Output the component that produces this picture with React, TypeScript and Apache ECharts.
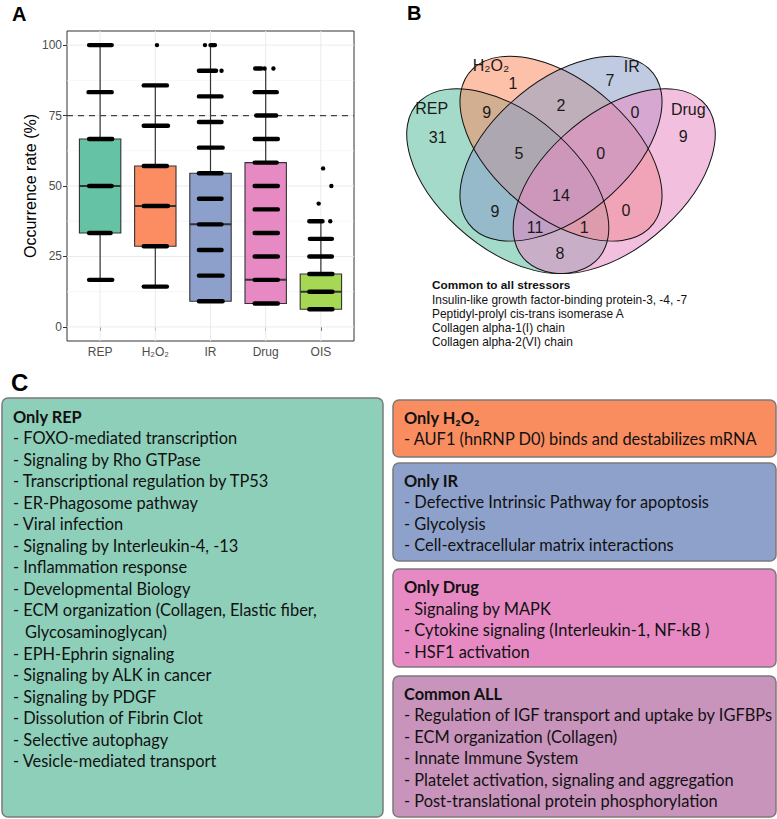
import React, { useEffect, useRef } from "react";
import * as echarts from "echarts";

// ---------- Panel A data ----------
const categories = ["REP", "H₂O₂", "IR", "Drug", "OIS"];
const boxColors = ["#66C2A5", "#FC8D62", "#8DA0CB", "#E78AC3", "#A6D854"];
// [lower whisker, Q1, median, Q3, upper whisker]
const repStats = [16.7, 33.3, 50, 66.7, 100];
const h2o2Stats = [14.3, 28.6, 42.9, 57.1, 85.7];
const irStats = [9.1, 9.1, 36.4, 54.5, 100];
const drugStats = [8.3, 8.3, 16.7, 58.3, 91.7];
const oisStats = [6.25, 6.25, 12.5, 18.75, 37.5];
const boxStats = [repStats, h2o2Stats, irStats, drugStats, oisStats];
const yTicks = [0, 25, 50, 75, 100];
const yMinor = [12.5, 37.5, 62.5, 87.5];
const threshold = 75;
// jittered point rows: [category index, value, left jitter, right jitter]
const repPoints = [
  [0, 100, -0.2, 0.21], [0, 83.3, -0.21, 0.21], [0, 66.7, -0.2, 0.22],
  [0, 50, -0.2, 0.21], [0, 33.3, -0.2, 0.19], [0, 16.7, -0.2, 0.22],
];
const h2o2Points = [
  [1, 100, 0.03, 0.03], [1, 85.7, -0.21, 0.21], [1, 71.4, -0.21, 0.23],
  [1, 57.1, -0.21, 0.21], [1, 42.9, -0.21, 0.23], [1, 28.6, -0.21, 0.21],
  [1, 14.3, -0.21, 0.21],
];
const irPoints = [
  [2, 100, -0.1, -0.1], [2, 100, 0.0, 0.08], [2, 90.9, -0.21, 0.1], [2, 90.9, 0.2, 0.2],
  [2, 81.8, -0.21, 0.2], [2, 72.7, -0.21, 0.2], [2, 63.6, -0.21, 0.22],
  [2, 54.5, -0.21, 0.2], [2, 45.5, -0.21, 0.2], [2, 36.4, -0.21, 0.2],
  [2, 27.3, -0.21, 0.2], [2, 18.2, -0.21, 0.22], [2, 9.1, -0.21, 0.22],
];
const drugPoints = [
  [3, 91.7, -0.19, -0.08], [3, 91.7, -0.02, -0.02], [3, 91.7, 0.14, 0.14],
  [3, 83.3, -0.2, 0.2], [3, 75, -0.17, 0.19], [3, 66.7, -0.2, 0.22],
  [3, 58.3, -0.2, 0.2], [3, 50, -0.2, 0.22], [3, 41.7, -0.2, 0.22],
  [3, 33.3, -0.2, 0.22], [3, 25, -0.2, 0.22], [3, 16.7, -0.2, 0.22],
  [3, 8.3, -0.2, 0.22],
];
const oisPoints = [
  [4, 56.25, 0.04, 0.04], [4, 50, 0.19, 0.19], [4, 43.75, -0.04, -0.04],
  [4, 37.5, -0.21, 0.03], [4, 37.5, 0.17, 0.17], [4, 31.25, -0.2, 0.2],
  [4, 25, -0.21, 0.2], [4, 18.75, -0.21, 0.21], [4, 12.5, -0.21, 0.21],
  [4, 6.25, -0.21, 0.21],
];
const jitterRows = [...repPoints, ...h2o2Points, ...irPoints, ...drugPoints, ...oisPoints];

// ---------- Panel B data ----------
const vennSets = ["REP", "H₂O₂", "IR", "Drug"];
const vennColors = ["rgba(102,194,165,0.6)", "rgba(252,141,98,0.55)", "rgba(141,160,203,0.55)", "rgba(231,138,195,0.55)"];
const vennRegions = ["REP", "H2O2", "IR", "Drug", "REP&H2O2", "H2O2&IR", "IR&Drug", "REP&H2O2&IR",
  "H2O2&IR&Drug", "ALL", "REP&IR", "H2O2&Drug", "REP&IR&Drug", "REP&H2O2&Drug", "REP&Drug"];
const vennCounts = [31, 1, 7, 9, 9, 2, 0, 5, 0, 14, 9, 0, 11, 1, 8];
const commonTitle = "Common to all stressors";
const commonProteins = [
  "Insulin-like growth factor-binding protein-3, -4, -7",
  "Peptidyl-prolyl cis-trans isomerase A",
  "Collagen alpha-1(I) chain",
  "Collagen alpha-2(VI) chain",
];

// ---------- Panel C data ----------
const onlyRepTitle = "Only REP";
const onlyRep = [
  "FOXO-mediated transcription", "Signaling by Rho GTPase", "Transcriptional regulation by TP53",
  "ER-Phagosome pathway", "Viral infection", "Signaling by Interleukin-4, -13",
  "Inflammation response", "Developmental Biology",
  "ECM organization (Collagen, Elastic fiber,\nGlycosaminoglycan)",
  "EPH-Ephrin signaling", "Signaling by ALK in cancer", "Signaling by PDGF",
  "Dissolution of Fibrin Clot", "Selective autophagy", "Vesicle-mediated transport",
];
const onlyH2o2Title = "Only H₂O₂";
const onlyH2o2 = ["AUF1 (hnRNP D0) binds and destabilizes mRNA"];
const onlyIrTitle = "Only IR";
const onlyIr = ["Defective Intrinsic Pathway for apoptosis", "Glycolysis", "Cell-extracellular matrix interactions"];
const onlyDrugTitle = "Only Drug";
const onlyDrug = ["Signaling by MAPK", "Cytokine signaling (Interleukin-1, NF-kB )", "HSF1 activation"];
const commonAllTitle = "Common ALL";
const commonAll = [
  "Regulation of IGF transport and uptake by IGFBPs", "ECM organization (Collagen)",
  "Innate Immune System", "Platelet activation, signaling and aggregation",
  "Post-translational protein phosphorylation",
];

// ---------- layout ----------
const SANS = "'Liberation Sans', Arial, sans-serif";
const BODY = "Lato, 'Open Sans', sans-serif";
const BODY_SIZE = 16.4;
const vennLabelPos = [[437.7, 137.7], [513, 83], [610, 80], [683.3, 136.7], [486.7, 112], [561, 105.7],
  [635, 112.7], [519, 153.3], [600.7, 153.3], [561, 195], [495, 211], [626, 210.7], [535, 227.7],
  [584.3, 227.3], [560, 253]];
const vennNamePos = [[431.7, 108.3], [491, 65], [631.7, 66.7], [688.3, 109]];
const vennEllipses = [
  { cx: 507.75, cy: 136.7, rot: -Math.PI / 4 },
  { cx: 561, cy: 101.2, rot: -Math.PI / 4 },
  { cx: 561, cy: 101.2, rot: Math.PI / 4 },
  { cx: 614.25, cy: 136.7, rot: Math.PI / 4 },
];
const boxLayout = [
  { title: onlyRepTitle, items: onlyRep, fill: "#8ecfba", x: 2, y: 398, w: 381, h: 419, t: 18 },
  { title: onlyH2o2Title, items: onlyH2o2, fill: "#f98d60", x: 393, y: 400, w: 383, h: 57, t: 17 },
  { title: onlyIrTitle, items: onlyIr, fill: "#8ea1cb", x: 393, y: 463, w: 383, h: 98, t: 17 },
  { title: onlyDrugTitle, items: onlyDrug, fill: "#e78ac4", x: 393, y: 569, w: 383, h: 98, t: 17.5 },
  { title: commonAllTitle, items: commonAll, fill: "#c894bb", x: 393, y: 676, w: 383, h: 141, t: 17 },
];
const LINE_H = 21.55;

function buildGraphics() {
  const g: any[] = [];
  const letter = (t: string, x: number, y: number, size: number) =>
    g.push({ type: "text", x, y, style: { text: t, fontFamily: SANS, fontWeight: "bold", fontSize: size, fill: "#000", align: "left", verticalAlign: "middle" } });
  letter("A", 12, 14, 20);
  letter("B", 407, 13, 20);
  letter("C", 11, 382, 24);

  // Venn
  const fills = vennEllipses.map((e, i) => ({
    type: "ellipse", x: e.cx, y: e.cy, rotation: e.rot,
    shape: { cx: 0, cy: 0, rx: 124, ry: 71 },
    style: { fill: vennColors[i], stroke: "none" },
  }));
  const outlines = vennEllipses.map((e) => ({
    type: "ellipse", x: e.cx, y: e.cy, rotation: e.rot,
    shape: { cx: 0, cy: 0, rx: 124, ry: 71 },
    style: { fill: "none", stroke: "#111", lineWidth: 1 },
  }));
  g.push({ type: "group", x: 0, y: 56, scaleY: 0.9155, children: [...fills, ...outlines] });
  vennSets.forEach((s, i) =>
    g.push({ type: "text", x: vennNamePos[i][0], y: vennNamePos[i][1], style: { text: s, fontFamily: SANS, fontSize: 16, fill: "#1a1a1a", align: "center", verticalAlign: "middle" } }));
  vennCounts.forEach((c, i) =>
    g.push({ type: "text", x: vennLabelPos[i][0], y: vennLabelPos[i][1], style: { text: String(c), fontFamily: SANS, fontSize: 16, fill: "#1a1a1a", align: "center", verticalAlign: "middle" } }));
  g.push({ type: "text", x: 432, y: 285, style: { text: commonTitle, fontFamily: SANS, fontWeight: "bold", fontSize: 11.8, fill: "#111", align: "left", verticalAlign: "middle" } });
  commonProteins.forEach((p, i) =>
    g.push({ type: "text", x: 432, y: 299.5 + i * 14.3, style: { text: p, fontFamily: SANS, fontSize: 11.9, fill: "#111", align: "left", verticalAlign: "middle" } }));

  // Panel C
  boxLayout.forEach((b) => {
    g.push({ type: "rect", shape: { x: b.x, y: b.y, width: b.w, height: b.h, r: 6 }, style: { fill: b.fill, stroke: "#7a7a7a", lineWidth: 1.5 } });
    const tx = b.x + 11;
    g.push({ type: "text", x: tx, y: b.y + b.t, style: { text: b.title, fontFamily: BODY, fontWeight: "bold", fontSize: BODY_SIZE, fill: "#111", align: "left", verticalAlign: "middle" } });
    let line = 1;
    b.items.forEach((it) => {
      const parts = it.split("\n");
      parts.forEach((p, k) => {
        g.push({ type: "text", x: k === 0 ? tx : tx + 12, y: b.y + b.t + line * LINE_H, style: { text: k === 0 ? "- " + p : p, fontFamily: BODY, fontSize: BODY_SIZE, fill: "#111", align: "left", verticalAlign: "middle" } });
        line++;
      });
    });
  });
  return g;
}

export default function App() {
  const ref = useRef<HTMLDivElement>(null);
  useEffect(() => {
    const chart = echarts.init(ref.current!, null, { renderer: "svg" });
    const gridRows: number[][] = [
      ...yMinor.map((v) => [1, v, 1]),
      ...yTicks.map((v) => [1, v, 0]),
      ...categories.map((_, i) => [i + 1, 50, 2]),
    ];
    const option: any = {
      animation: false,
      backgroundColor: "#fff",
      grid: { left: 67, top: 31, width: 287, height: 310, show: true, borderColor: "#333", borderWidth: 1, backgroundColor: "#fff" },
      xAxis: {
        type: "value", min: 0.4, max: 5.6,
        axisLine: { show: false },
        splitLine: { show: false },
        axisTick: { show: true, customValues: [1, 2, 3, 4, 5], length: 4, lineStyle: { color: "#333" } },
        axisLabel: {
          customValues: [1, 2, 3, 4, 5], color: "#4d4d4d", fontSize: 12, fontFamily: SANS, margin: 5,
          formatter: (v: number) => categories[Math.round(v) - 1] ?? "",
        },
      },
      yAxis: {
        type: "value", min: -5, max: 105,
        axisLine: { show: false },
        splitLine: { show: false },
        axisTick: { show: true, customValues: yTicks, length: 4, lineStyle: { color: "#333" } },
        axisLabel: { customValues: yTicks, color: "#4d4d4d", fontSize: 12, fontFamily: SANS, margin: 5 },
        name: "Occurrence rate (%)", nameLocation: "middle", nameGap: 28,
        nameTextStyle: { fontSize: 16, color: "#000", fontFamily: SANS },
      },
      series: [
        {
          type: "custom", z: 1, silent: true, data: gridRows,
          renderItem: (params: any, api: any) => {
            const cs = params.coordSys;
            const kind = api.value(2);
            if (kind === 2) {
              const x = api.coord([api.value(0), 0])[0];
              return { type: "line", shape: { x1: x, y1: cs.y, x2: x, y2: cs.y + cs.height }, style: { stroke: "#ebebeb", lineWidth: 1 } };
            }
            const y = api.coord([1, api.value(1)])[1];
            return { type: "line", shape: { x1: cs.x, y1: y, x2: cs.x + cs.width, y2: y }, style: { stroke: kind === 1 ? "#f4f4f4" : "#ebebeb", lineWidth: kind === 1 ? 0.7 : 1 } };
          },
        },
        {
          type: "custom", z: 2, silent: true,
          data: boxStats.map((s, i) => [i + 1, ...s]),
          renderItem: (params: any, api: any) => {
            const i = api.value(0);
            const lo = api.value(1), q1 = api.value(2), med = api.value(3), q3 = api.value(4), hi = api.value(5);
            const half = api.size([0.375, 0])[0];
            const cx = api.coord([i, med])[0];
            const yLo = api.coord([i, lo])[1], yQ1 = api.coord([i, q1])[1], yMed = api.coord([i, med])[1];
            const yQ3 = api.coord([i, q3])[1], yHi = api.coord([i, hi])[1];
            return {
              type: "group",
              children: [
                { type: "line", shape: { x1: cx, y1: yHi, x2: cx, y2: yQ3 }, style: { stroke: "#333", lineWidth: 1.2 } },
                { type: "line", shape: { x1: cx, y1: yQ1, x2: cx, y2: yLo }, style: { stroke: "#333", lineWidth: 1.2 } },
                { type: "rect", shape: { x: cx - half, y: yQ3, width: half * 2, height: yQ1 - yQ3 }, style: { fill: boxColors[i - 1], stroke: "#333", lineWidth: 1.1 } },
                { type: "line", shape: { x1: cx - half, y1: yMed, x2: cx + half, y2: yMed }, style: { stroke: "#333", lineWidth: 2 } },
              ],
            };
          },
        },
        {
          type: "custom", z: 3, silent: true, data: [[1, threshold]],
          renderItem: (params: any, api: any) => {
            const cs = params.coordSys;
            const y = api.coord([1, api.value(1)])[1];
            return { type: "line", shape: { x1: cs.x, y1: y, x2: cs.x + cs.width, y2: y }, style: { stroke: "#444", lineWidth: 1.2, lineDash: [6, 5] } };
          },
        },
        {
          type: "custom", z: 4, silent: true,
          data: jitterRows.map((r) => [r[0] + 1, r[1], r[2], r[3]]),
          renderItem: (params: any, api: any) => {
            const c = api.value(0), v = api.value(1);
            const p1 = api.coord([c + api.value(2), v]);
            const p2 = api.coord([c + api.value(3), v]);
            const r = 2.2;
            return { type: "rect", shape: { x: p1[0] - r, y: p1[1] - r, width: p2[0] - p1[0] + 2 * r, height: 2 * r, r }, style: { fill: "#000" } };
          },
        },
      ],
      graphic: buildGraphics(),
    };
    chart.setOption(option);
    return () => chart.dispose();
  }, []);
  return <div ref={ref} style={{ position: "absolute", left: 0, top: 0, width: 777, height: 819, background: "#fff" }} />;
}
